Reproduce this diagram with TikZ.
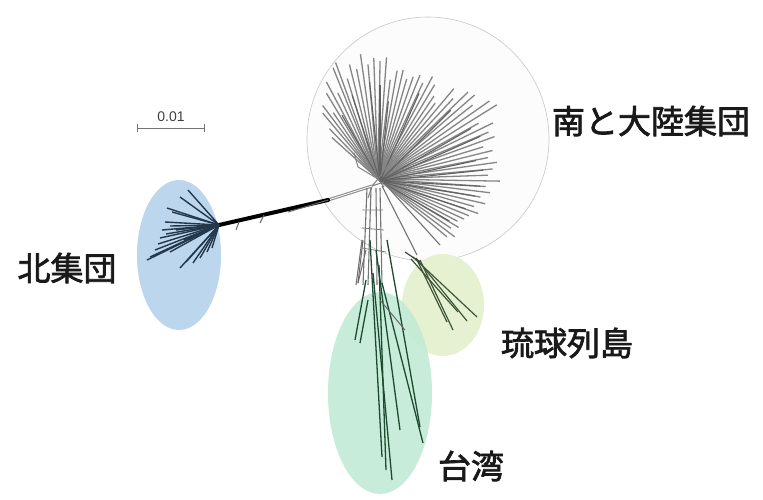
\documentclass[tikz,border=0pt]{standalone}
\usepackage{fontspec}
\usetikzlibrary{calc}
\newfontfamily\jp{Noto Sans CJK JP}
\newfontfamily\lat{Liberation Sans}
\newcommand{\heavytext}[1]{\special{pdf:literal 2 Tr 0.7 w}#1\special{pdf:literal 0 Tr}}
\definecolor{northfill}{HTML}{BCD6EE}
\definecolor{twfill}{HTML}{C2EBD6}
\definecolor{ryufill}{HTML}{E6F1D2}
\definecolor{northline}{HTML}{23384A}
\definecolor{twline}{HTML}{1E4A30}
\definecolor{ryuline}{HTML}{3F5538}
\begin{document}
\begin{tikzpicture}[x=1pt,y=-1pt,
  lab/.style={font=\jp\fontsize{33}{33}\selectfont, text=black!90, inner sep=0pt},
  star/.style={draw=black!48, line width=1.3pt},
  northbr/.style={draw=northline, line width=1.4pt},
  twbr/.style={draw=twline, line width=1.3pt},
  ryubr/.style={draw=ryuline, line width=1.2pt}]
\useasboundingbox (0,0) rectangle (763,499);
\fill[white] (0,0) rectangle (763,499);
% groups
\draw[draw=black!22, fill=black!1, line width=0.6pt] (428,139) ellipse [x radius=121, y radius=122];
\fill[northfill] (179,255) ellipse [x radius=42, y radius=75];
\fill[ryufill] (443,305) ellipse [x radius=41, y radius=51];
\fill[twfill, fill opacity=0.9] (380,393) ellipse [x radius=52, y radius=101];
% hub coordinates
\coordinate (hub) at (378,179);
\coordinate (hubB) at (380,181);
\coordinate (hubA) at (372,186);
\coordinate (mid) at (328,200);
\coordinate (nhub) at (219,225);
% star of the southern/continental group
\foreach \a/\r in {-138/62,-134/70,-130/86,-127/92,-124/80,-121/100,-118/110,-115/95,-112/120,-110/124,-107/105,-104/118,-101/112,-98/126,-95/115,-92/121,-89/118,-86/122,-83/100,-80/110,-77/112,-74/104,-71/108,-68/112,-65/106,-62/116,-59/110,-56/100,-53/95,-50/118,-47/110,-44/125,-41/128,-38/120,-35/136,-32/140,-29/115,-26/128,-23/120,-20/124,-17/110,-14/118,-11/112,-8/120,-5/115,-2/110,1/122,4/108,7/113,10/104,13/110,16/100,19/106,22/98,25/95,28/90,31/94,34/88,37/96,40/90}
  \draw[star] (hub) -- ++(\a:\r);
\foreach \a/\r in {-108/90,-96/100,-84/80,-66/96,-45/100,-30/105,-12/98,3/100,18/90,30/80,-24/110,-6/104,9/96,-120/76,-90/96}
  \draw[draw=black!62, line width=1.1pt] (hubB) -- ++(\a:\r);
% reticulation near hub
\draw[draw=black!50, line width=1pt] (hub) -- ++(-20,-12) -- ++(-4,-14) (hub) -- ++(-8,-22) (hub) -- ++(10,-14)
  (hub) -- (hubA) (hubA) -- ++(12,-4) (hubA) -- ++(-4,12) (hub) -- ++(6,8);
% long branch to the northern group
\draw[draw=black!45, line width=3pt] (hubA) -- (mid);
\draw[draw=white, line width=0.8pt] (hubA) -- (mid);
\draw[draw=black, line width=4pt, line cap=round] (mid) -- (nhub);
\draw[draw=black!60, line width=1pt] (mid) -- ++(-40,12) (nhub) ++(20,-3) -- ++(-3,8) (nhub) ++(45,-10) -- ++(-4,8);
% northern star
\foreach \x/\y in {188/190,180/197,167/208,172/212,165/222,170/226,160/238,166/234,150/257,155/250,147/260,170/252,175/246,180/268,186/262,193/263,200/258,207/252,212/248,158/244,162/230,176/230,184/240}
  \draw[northbr] (nhub) -- (\x,\y);
% downward bundle
\draw[draw=black!55, line width=1.1pt] (367,188) -- (363,285) (371,188) -- (368,285) (376,188) -- (377,285) (380,188) -- (382,285)
  (382,186) -- (417,255) (385,184) -- (440,245) (362,240) -- (356,285) (358,283) -- (366,250);
\draw[draw=black!50, line width=0.8pt] (362,210) -- (383,210) (362,228) -- (384,230) (362,248) -- (386,252);
% Taiwan branches
\draw[twbr] (370,240) -- (382,457);
\draw[twbr] (373,273) -- (392,480);
\draw[twbr] (382,283) -- (423,443);
\draw[twbr] (387,240) -- (420,427);
\draw[twbr] (376,250) -- (400,430);
\draw[twbr] (366,280) -- (355,340);
\draw[twbr] (368,300) -- (360,343);
\draw[twbr] (379,265) -- (386,470);
\draw[draw=black!60, line width=1pt] (363,240) -- (358,283) (380,300) -- (405,330);
% Ryukyu branches
\draw[ryubr] (413,257) -- (477,317);
\draw[ryubr] (416,258) -- (467,321);
\draw[ryubr] (420,260) -- (453,330);
\draw[ryubr] (418,262) -- (447,322);
\draw[ryubr] (411,259) -- (458,312);
\draw[draw=black!75, line width=1.2pt] (405,252) -- (420,262);
% scale bar
\node[font=\lat\fontsize{14}{14}\selectfont, text=black!75, inner sep=0pt] (sc) at (171,117) {0.01};
\coordinate (sbl) at (137,128);
\coordinate (sbr) at (204,128);
\draw[draw=black!55, line width=1pt] (sbl) -- (sbr) (sbl) ++(0,-4) -- ++(0,8) (sbr) ++(0,-4) -- ++(0,8);
% labels
\node[lab] (south) at (651,121) {\heavytext{南と大陸集団}};
\node[lab] (north) at (67,268) {\heavytext{北集団}};
\node[lab] (ryu) at (567,343) {\heavytext{琉球列島}};
\node[lab] (tw) at (471,466) {\heavytext{台湾}};
\end{tikzpicture}
\end{document}
